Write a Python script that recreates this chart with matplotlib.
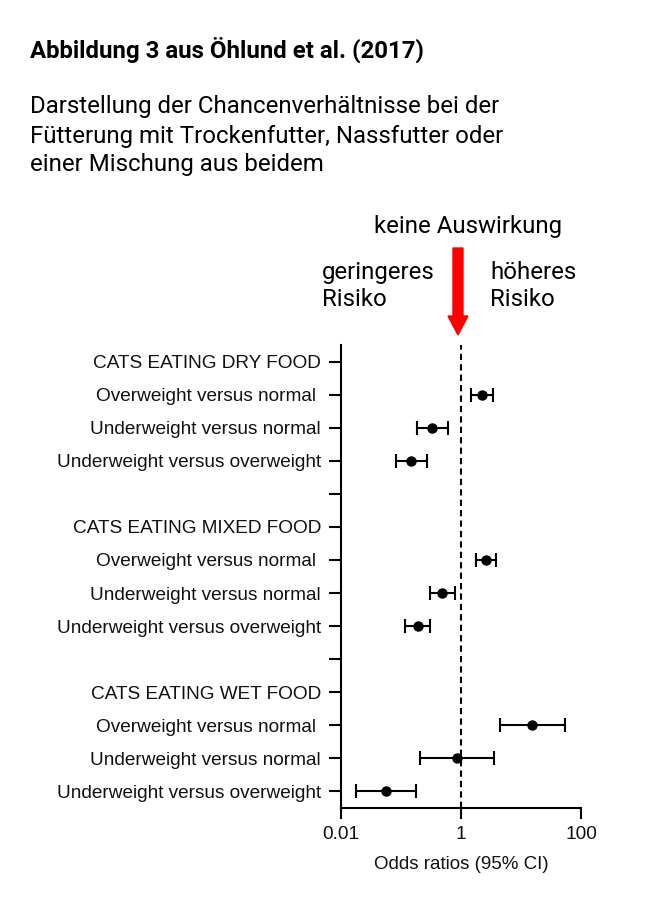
import matplotlib
matplotlib.use("Agg")
import matplotlib.pyplot as plt
import numpy as np

# rows from top to bottom; None = header/blank row without a point
row_labels = [
    "CATS EATING DRY FOOD",
    "Overweight versus normal ",
    "Underweight versus normal",
    "Underweight versus overweight",
    "",
    "CATS EATING MIXED FOOD",
    "Overweight versus normal ",
    "Underweight versus normal",
    "Underweight versus overweight",
    "",
    "CATS EATING WET FOOD",
    "Overweight versus normal ",
    "Underweight versus normal",
    "Underweight versus overweight",
]
odds_ratio = [None, 2.23, 0.33, 0.148, None, None, 2.57, 0.49, 0.189, None, None, 15.4, 0.86, 0.056]
ci_low = [None, 1.46, 0.184, 0.083, None, None, 1.75, 0.30, 0.118, None, None, 4.55, 0.211, 0.0175]
ci_high = [None, 3.4, 0.61, 0.27, None, None, 3.8, 0.80, 0.30, None, None, 55.0, 3.57, 0.177]

W, H = 651, 897
fig = plt.figure(figsize=(W / 100, H / 100), dpi=100)
fig.patch.set_facecolor("white")

# ── header texts ──────────────────────────────────────────────
fs_head = 17.3
fig.text(30 / W, 1 - 50 / H, "Abbildung 3 aus Öhlund et al. (2017)",
         fontsize=fs_head, fontweight="bold", family="Roboto", va="center")
for i, line in enumerate(["Darstellung der Chancenverhältnisse bei der",
                          "Fütterung mit Trockenfutter, Nassfutter oder",
                          "einer Mischung aus beidem"]):
    fig.text(30 / W, 1 - (107 + i * 29) / H, line, fontsize=fs_head,
             family="Roboto", va="center")

fig.text(468 / W, 1 - 226 / H, "keine Auswirkung", fontsize=fs_head,
         family="Roboto", ha="center", va="center")
fig.text(322 / W, 1 - 286 / H, "geringeres\nRisiko", fontsize=fs_head,
         family="Roboto", ha="left", va="center", linespacing=1.17)
fig.text(490 / W, 1 - 286 / H, "höheres\nRisiko", fontsize=fs_head,
         family="Roboto", ha="left", va="center", linespacing=1.17)
fig.patches.append(matplotlib.patches.FancyArrow(
    458 / W, 1 - 248 / H, 0, -(87 / H), width=10 / W, head_width=20 / W,
    head_length=19 / H, length_includes_head=True, color="#ff0000",
    transform=fig.transFigure, figure=fig))

# ── forest plot ───────────────────────────────────────────────
ax = fig.add_axes([341 / W, 1 - 808 / H, 240 / W, 463 / H])
y = np.arange(len(row_labels))
for yi, orr, lo, hi in zip(y, odds_ratio, ci_low, ci_high):
    if orr is None:
        continue
    ax.errorbar(orr, yi, xerr=[[orr - lo], [hi - orr]], fmt="o", color="black",
                markersize=6.5, elinewidth=1.5, capsize=5, capthick=1.5)

ax.axvline(1, color="black", linestyle=(0, (3, 2)), linewidth=1.5)
ax.set_xscale("log")
ax.set_xlim(0.01, 100)
ax.set_ylim(len(row_labels) - 0.5, -0.5)
ax.set_xticks([0.01, 1, 100])
ax.set_xticklabels(["0.01", "1", "100"])
ax.xaxis.set_minor_locator(matplotlib.ticker.NullLocator())
ax.set_yticks(y)
ax.set_yticklabels(row_labels)

for lab in ax.get_yticklabels() + ax.get_xticklabels():
    lab.set_family("Liberation Sans")
    lab.set_fontsize(13.7)
    lab.set_color("#111111")
ax.set_xlabel("Odds ratios (95% CI)", family="Liberation Sans", fontsize=13.5,
              labelpad=9, color="#111111")

for s in ["top", "right"]:
    ax.spines[s].set_visible(False)
for s in ["left", "bottom"]:
    ax.spines[s].set_linewidth(1.5)
ax.tick_params(axis="y", length=9, width=1.5, pad=5.4)
ax.tick_params(axis="x", length=8, width=1.5, pad=5)

fig.savefig("out.png", dpi=100)
